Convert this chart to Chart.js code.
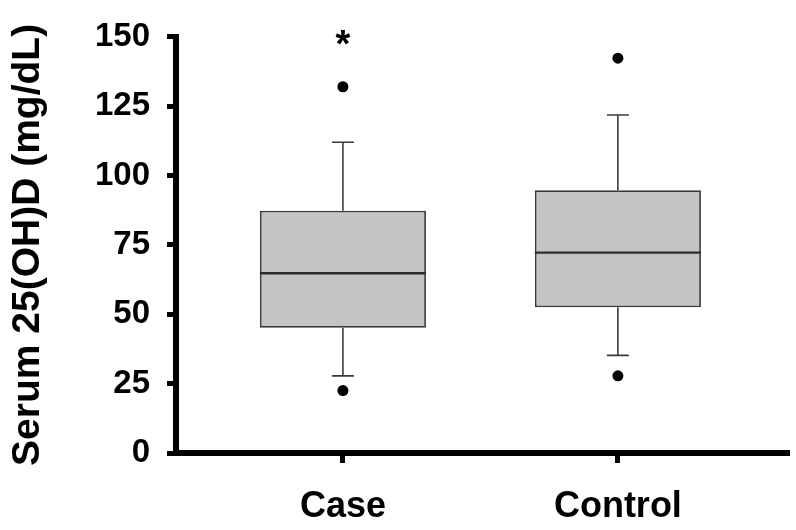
<!DOCTYPE html>
<html>
<head>
<meta charset="utf-8">
<script src="https://cdn.jsdelivr.net/npm/chart.js@4.4.1/dist/chart.umd.min.js"></script>
<style>
  body { margin: 0; background: #fff; }
  #wrap { width: 796px; height: 530px; }
</style>
</head>
<body>
<div id="wrap"><canvas id="box" width="796" height="530"></canvas></div>
<script>
// Data
const groups = ['Case', 'Control'];
const whiskerLow = [27.8, 35.2];
const q1 = [45.1, 52.5];
const median = [64.8, 72.2];
const q3 = [87.3, 94.7];
const whiskerHigh = [112, 121.8];
const outliers = [[132, 22.5], [142.3, 27.8]];
const marks = ['*', ''];

const FONT = "'Liberation Sans', Arial, sans-serif";
const boxHalf = 0.302;
const capHalf = 0.04;

// build segments for the line datasets (null point = gap)
const medianPts = [];
const stemPts = [];
const capPts = [];
groups.forEach((g, i) => {
  const x = i + 1;
  medianPts.push({x: x - boxHalf, y: median[i]}, {x: x + boxHalf, y: median[i]}, {x: x, y: null});
  stemPts.push({x: x, y: q3[i]}, {x: x, y: whiskerHigh[i]}, {x: x, y: null});
  stemPts.push({x: x, y: q1[i]}, {x: x, y: whiskerLow[i]}, {x: x, y: null});
  capPts.push({x: x - capHalf, y: whiskerHigh[i]}, {x: x + capHalf, y: whiskerHigh[i]}, {x: x, y: null});
  capPts.push({x: x - capHalf, y: whiskerLow[i]}, {x: x + capHalf, y: whiskerLow[i]}, {x: x, y: null});
});
const outlierPts = [];
outliers.forEach((list, i) => list.forEach(v => outlierPts.push({x: i + 1, y: v})));

// asterisk above a group
const markPlugin = {
  id: 'marks',
  afterDatasetsDraw(chart) {
    const {ctx, scales} = chart;
    ctx.save();
    ctx.fillStyle = '#000';
    ctx.font = 'bold 38px ' + FONT;
    ctx.textAlign = 'center';
    ctx.textBaseline = 'middle';
    marks.forEach((m, i) => {
      if (!m) return;
      ctx.fillText(m, scales.x.getPixelForValue(i + 1), scales.y.getPixelForValue(146.5));
    });
    ctx.restore();
  }
};

const lineStyle = {
  type: 'line',
  borderColor: '#3a3a3a',
  borderWidth: 1.6,
  pointRadius: 0,
  fill: false,
  spanGaps: false,
  tension: 0
};

new Chart(document.getElementById('box').getContext('2d'), {
  type: 'bar',
  data: {
    datasets: [
      Object.assign({}, lineStyle, {label: 'median', data: medianPts, borderWidth: 2.4, borderColor: '#2e2e2e', order: 0}),
      Object.assign({}, lineStyle, {label: 'whisker', data: stemPts, order: 1}),
      Object.assign({}, lineStyle, {label: 'cap', data: capPts, order: 1}),
      {
        type: 'scatter',
        label: 'outliers',
        data: outlierPts,
        pointRadius: 5.5,
        backgroundColor: '#000',
        borderWidth: 0,
        order: 0
      },
      {
        label: 'box',
        data: groups.map((g, i) => ({x: i + 1, y: [q1[i], q3[i]]})),
        backgroundColor: '#c4c4c4',
        borderColor: '#3a3a3a',
        borderWidth: 1.8,
        borderSkipped: false,
        categoryPercentage: 1,
        barPercentage: boxHalf * 2,
        order: 2
      }
    ]
  },
  options: {
    responsive: false,
    animation: false,
    layout: { padding: { left: 0, top: 27, right: 9, bottom: 0 } },
    plugins: {
      legend: { display: false },
      tooltip: { enabled: false }
    },
    scales: {
      x: {
        type: 'linear',
        offset: false,
        min: 0.393,
        max: 2.615,
        afterBuildTicks: s => { s.ticks = groups.map((g, i) => ({value: i + 1})); },
        afterFit: s => { s.height = 77; },
        ticks: {
          callback: v => groups[v - 1] || '',
          color: '#000',
          padding: 22,
          font: { family: FONT, size: 36, weight: 'bold' }
        },
        grid: { offset: false, drawOnChartArea: false, color: '#000', lineWidth: 5, tickLength: 10 },
        border: { color: '#000', width: 6 }
      },
      y: {
        min: 0,
        max: 150,
        afterFit: s => { s.width = 176; },
        ticks: {
          stepSize: 25,
          color: '#000',
          padding: 17,
          font: { family: FONT, size: 33, weight: 'bold' }
        },
        grid: { drawOnChartArea: false, color: '#000', lineWidth: 5, tickLength: 9 },
        border: { color: '#000', width: 6 },
        title: {
          display: true,
          text: 'Serum 25(OH)D (mg/dL)',
          color: '#000',
          padding: { top: 5, bottom: 0 },
          font: { family: FONT, size: 39, weight: 'bold' }
        }
      }
    }
  },
  plugins: [markPlugin]
});
</script>
</body>
</html>
